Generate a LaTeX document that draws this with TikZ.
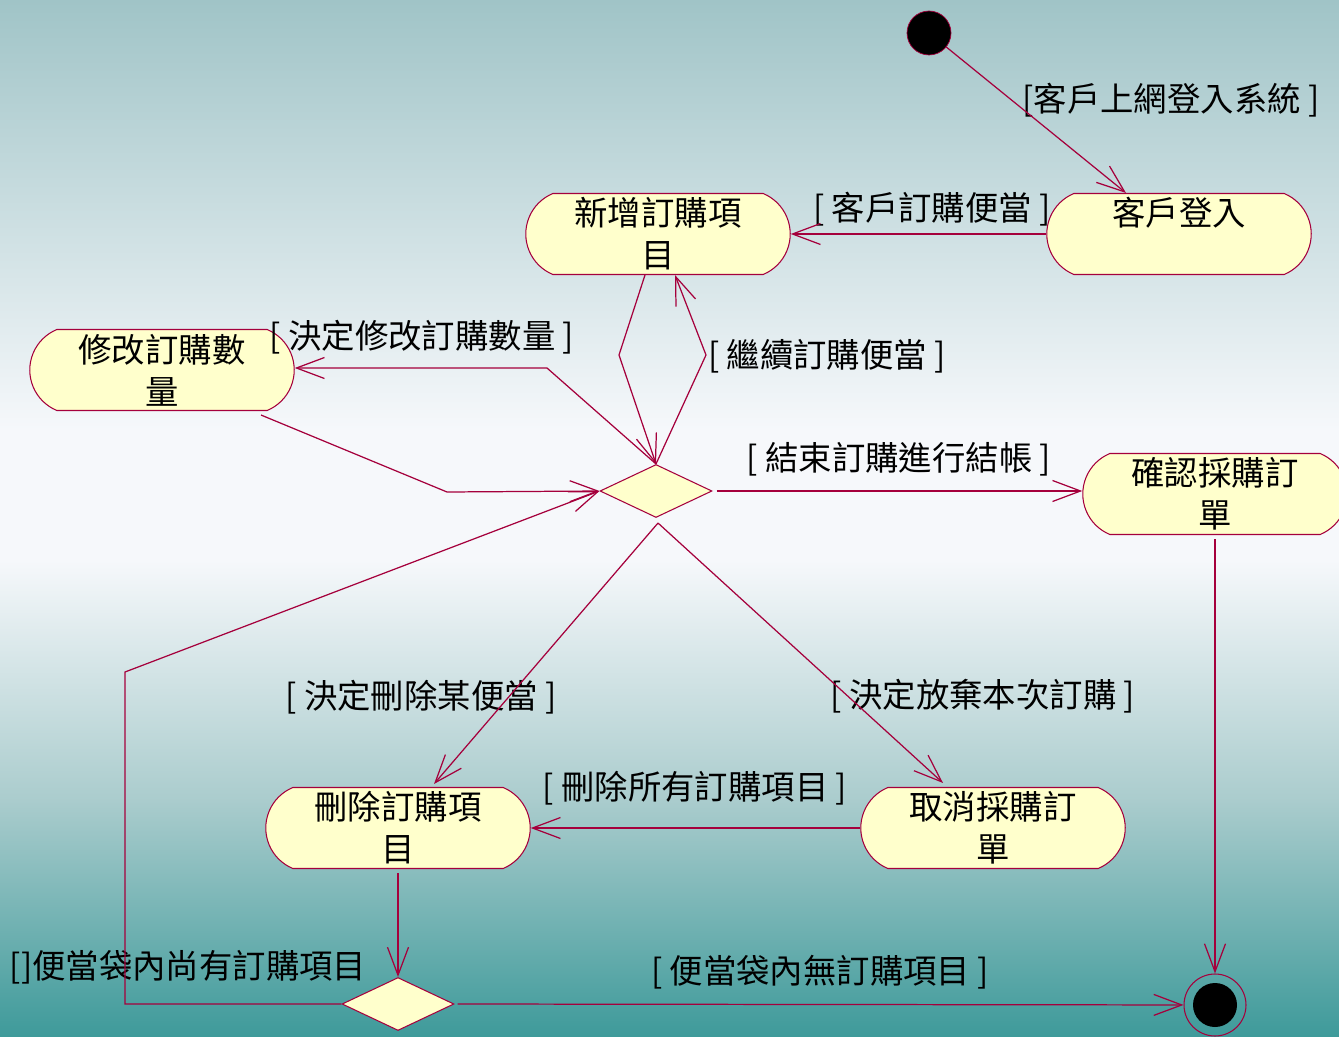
\documentclass[tikz,border=0pt]{standalone}
\usepackage{fontspec}
\setmainfont{Noto Sans CJK TC}
\usepackage{xcolor}
\usepackage{tikz}
\usetikzlibrary{arrows.meta,shapes.geometric,shapes.misc,calc}

\definecolor{umlline}{RGB}{165,0,60}
\definecolor{umlfill}{RGB}{255,255,204}
\definecolor{bgtop}{RGB}{160,196,199}
\definecolor{bgmid}{RGB}{246,248,251}
\definecolor{bglow}{RGB}{170,204,205}
\definecolor{bgbot}{RGB}{62,154,154}

\begin{document}
\begin{tikzpicture}[x=0.02cm, y=-0.02cm,
  font=\fontsize{19}{24}\selectfont,
  activity/.style={rounded rectangle, rounded rectangle arc length=135, draw=umlline, line width=0.6pt,
    fill=umlfill, minimum width=5.36cm, minimum height=1.62cm, inner sep=1pt, align=center},
  choice/.style={diamond, draw=umlline, line width=0.6pt, fill=umlfill,
    minimum width=2.24cm, minimum height=1.06cm, inner sep=0pt},
  flow/.style={draw=umlline, line width=0.7pt, -{Straight Barb[length=0.56cm, width=0.42cm]}},
  guard/.style={inner sep=0pt}]

% Background
\useasboundingbox (0,0) rectangle (1339,1037);
\clip (0,0) rectangle (1339,1037);
\shade[top color=bgtop, bottom color=bgmid] (0,0) rectangle (1339,430);
\fill[bgmid] (0,429) rectangle (1339,561);
\shade[top color=bgmid, bottom color=bglow] (0,560) rectangle (1339,801);
\shade[top color=bglow, bottom color=bgbot] (0,800) rectangle (1339,1037);

% Start and end
\node[circle, fill=black, draw=umlline, minimum size=0.88cm, inner sep=0pt] (init) at (929,33) {};
\node[circle, draw=umlline, line width=0.6pt, minimum size=1.24cm, inner sep=0pt] (final) at (1215,1005) {};
\fill[black] (final.center) circle[radius=22];

% Activities
\node[activity] (login) at (1179,234) {客戶登入\\\phantom{入}};
\node[activity] (addItem) at (658,234) {新增訂購項\\目};
\node[activity] (modQty) at (162,370) {修改訂購數\\量};
\node[activity] (confirm) at (1215,494) {確認採購訂\\單};
\node[activity] (delItem) at (398,828) {刪除訂購項\\目};
\node[activity] (cancel) at (993,828) {取消採購訂\\單};

% Decisions
\node[choice] (decA) at (656,491) {};
\node[choice] (decB) at (398,1004) {};

% Guards
\foreach \n/\x/\y/\t in {
  gLogin/1171/100/{[客戶上網登入系統 ]},
  gOrder/932/209/{[ 客戶訂購便當 ]},
  gModify/422/337/{[ 決定修改訂購數量 ]},
  gMore/827/356/{[ 繼續訂購便當 ]},
  gCheck/899/459/{[ 結束訂購進行結帳 ]},
  gDelete/421/697/{[ 決定刪除某便當 ]},
  gGiveUp/983/696/{[ 決定放棄本次訂購 ]},
  gDelAll/695/788/{[ 刪除所有訂購項目 ]},
  gLeft/188/967/{[]便當袋內尚有訂購項目},
  gEmpty/820/972/{[ 便當袋內無訂購項目 ]}} {
    \node[guard] (\n) at (\x,\y) {\t};
}

% Transitions
\draw[flow] (init) -- ($(login.north)+(-53,0)$);
\draw[flow] (login.west) -- (addItem.east);
\draw[flow] ($(addItem.south)+(-13,0)$) -- (619,355) -- (decA.north);
\draw[flow] (decA.north) -- (706,355) -- ($(addItem.south)+(17,0)$);
\draw[flow] (decA.north) -- (547,368) -- (modQty.east |- 0,368);
\draw[flow] ($(modQty.south)+(99,4)$) -- (447,492) -- (decA.west);
\draw[flow] ($(decA.east)+(4,0)$) -- (confirm.west |- decA.east);
\draw[flow] ($(confirm.south)+(0,4)$) -- (final);
\draw[flow] ($(decA.south)+(2,5)$) -- ($(delItem.north)+(36,-3)$);
\draw[flow] ($(decA.south)+(2,5)$) -- ($(cancel.north)+(-50,-4)$);
\draw[flow] (cancel.west) -- (delItem.east);
\draw[flow] ($(delItem.south)+(0,4)$) -- (decB.north);
\draw[flow] ($(decB.east)+(3,0)$) -- (final);
\draw[flow] (decB.west) -- (125,1004) -- (125,672) -- (decA.west);

\end{tikzpicture}
\end{document}
